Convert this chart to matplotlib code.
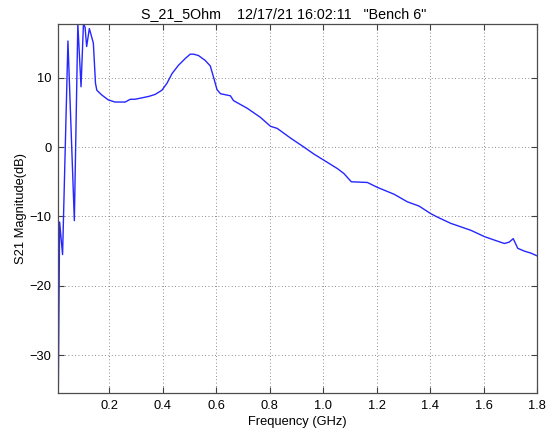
import numpy as np
import matplotlib
matplotlib.use("Agg")
import matplotlib.pyplot as plt

plt.rcParams['font.family'] = ['Liberation Sans', 'DejaVu Sans']

# valeurs (GHz, dB)
freq_ghz = [
    0.010, 0.015, 0.026, 0.046, 0.070, 0.083, 0.095, 0.104, 0.110, 0.116,
    0.126, 0.141, 0.149, 0.154, 0.173, 0.197, 0.222, 0.260, 0.279, 0.297,
    0.322, 0.347, 0.372, 0.397, 0.416, 0.435, 0.459, 0.485, 0.503, 0.516,
    0.534, 0.559, 0.578, 0.590, 0.603, 0.616, 0.653, 0.665, 0.716, 0.765,
    0.803, 0.828, 0.878, 0.928, 0.965, 1.003, 1.053, 1.077, 1.105, 1.165,
    1.202, 1.265, 1.315, 1.358, 1.402, 1.427, 1.477, 1.552, 1.602, 1.639,
    1.677, 1.695, 1.710, 1.727, 1.752, 1.777, 1.800,
]
s21_db = [
    -35.5, -10.8, -15.5, 15.3, -10.6, 17.75, 8.7, 17.75, 17.3, 14.5,
    17.1, 15.0, 9.2, 8.2, 7.5, 6.8, 6.5, 6.5, 6.9, 6.9,
    7.1, 7.3, 7.6, 8.2, 9.2, 10.6, 11.8, 12.8, 13.4, 13.4,
    13.2, 12.5, 11.7, 10.1, 8.3, 7.7, 7.4, 6.7, 5.6, 4.3,
    3.0, 2.7, 1.3, 0.0, -1.0, -1.9, -3.1, -3.8, -5.0, -5.1,
    -5.8, -6.8, -7.9, -8.5, -9.6, -10.1, -11.0, -12.0, -12.9, -13.4,
    -13.9, -13.7, -13.2, -14.6, -15.0, -15.3, -15.7,
]
x_ticks = [0.2, 0.4, 0.6, 0.8, 1.0, 1.2, 1.4, 1.6, 1.8]
y_ticks = [-30, -20, -10, 0, 10]

fig = plt.figure(figsize=(5.52, 4.32), dpi=100)
ax = fig.add_axes([0.1056, 0.0896, 0.8678, 0.8548])

ax.plot(freq_ghz, s21_db, color="#2626ff", linewidth=1.0)

ax.set_xlim(0.01, 1.8)
ax.set_ylim(-35.5, 17.75)
ax.set_xticks(x_ticks)
ax.set_xticklabels([f"{t:.1f}" for t in x_ticks])
ax.set_yticks(y_ticks)

ax.grid(True, color="0.4", linestyle=(0, (1, 3)), linewidth=0.6)
ax.tick_params(direction="in", top=True, right=True, length=4,
               labelsize=9.3, color="0.25", pad=5)
for sp in ax.spines.values():
    sp.set_color("0.3")
    sp.set_linewidth(0.9)

ax.set_xlabel("Frequency (GHz)", fontsize=9.3, labelpad=3)
ax.set_ylabel("S21 Magnitude(dB)", fontsize=9.3, labelpad=2)
ax.set_title('S_21_5Ohm    12/17/21 16:02:11   "Bench 6"',
             fontsize=10.3, x=0.4697, pad=4)

fig.savefig("out.png", dpi=100)
